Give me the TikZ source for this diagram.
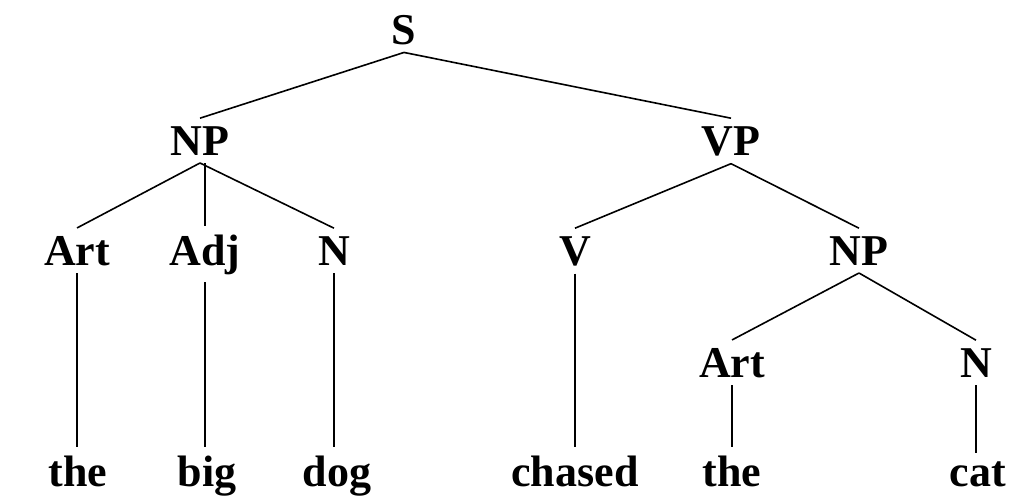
\documentclass[tikz,border=0pt]{standalone}
\usepackage{fontspec}
\setmainfont{Liberation Serif}
\usepackage{tikz}
\usetikzlibrary{positioning}

\begin{document}
\begin{tikzpicture}[x=1pt, y=-1pt,
    lbl/.style={inner sep=8pt, outer sep=0pt, anchor=base, font=\bfseries\fontsize{44}{50}\selectfont},
    branch/.style={line width=1.6pt}]
    \useasboundingbox (0,0) rectangle (1016,499);

    % Root node
    \node[lbl] (S) at (404,44) {S};

    % Phrase nodes
    \node[lbl] (np) at (200,155) {NP};
    \node[lbl] (vp) at (731,155) {VP};

    % Category nodes
    \node[lbl] (art) at (77,265) {Art};
    \node[lbl] (adj) at (205,265) {Adj};
    \node[lbl] (n) at (334,265) {N};
    \node[lbl] (v) at (575,265) {V};
    \node[lbl] (objnp) at (859,265) {NP};
    \node[lbl] (objart) at (732,377) {Art};
    \node[lbl] (objn) at (976,377) {N};

    % Words
    \node[lbl] (w1) at (78,486) {the};
    \node[lbl] (w2) at (207,486) {big};
    \node[lbl] (w3) at (337,486) {dog};
    \node[lbl] (w4) at (575,486) {chased};
    \node[lbl] (w5) at (732,486) {the};
    \node[lbl] (w6) at (978,486) {cat};

    % Branches
    \draw[branch] (S.south) -- (np.north);
    \draw[branch] (S.south) -- (vp.north);
    \draw[branch] (np.south) -- (art.north);
    \draw[branch] (np.south -| adj.north) -- (adj.north);
    \draw[branch] (np.south) -- (n.north);
    \draw[branch] (vp.south) -- (v.north);
    \draw[branch] (vp.south) -- (objnp.north);
    \draw[branch] (objnp.south) -- (objart.north);
    \draw[branch] (objnp.south) -- (objn.north);
    \draw[branch] (art.south) -- (w1.north -| art.south);
    \draw[branch] (adj.south) -- (w2.north -| adj.south);
    \draw[branch] (n.south) -- (w3.north -| n.south);
    \draw[branch] (v.south) -- (w4.north -| v.south);
    \draw[branch] (objart.south) -- (w5.north -| objart.south);
    \draw[branch] (objn.south) -- (w6.north -| objn.south);
\end{tikzpicture}
\end{document}
